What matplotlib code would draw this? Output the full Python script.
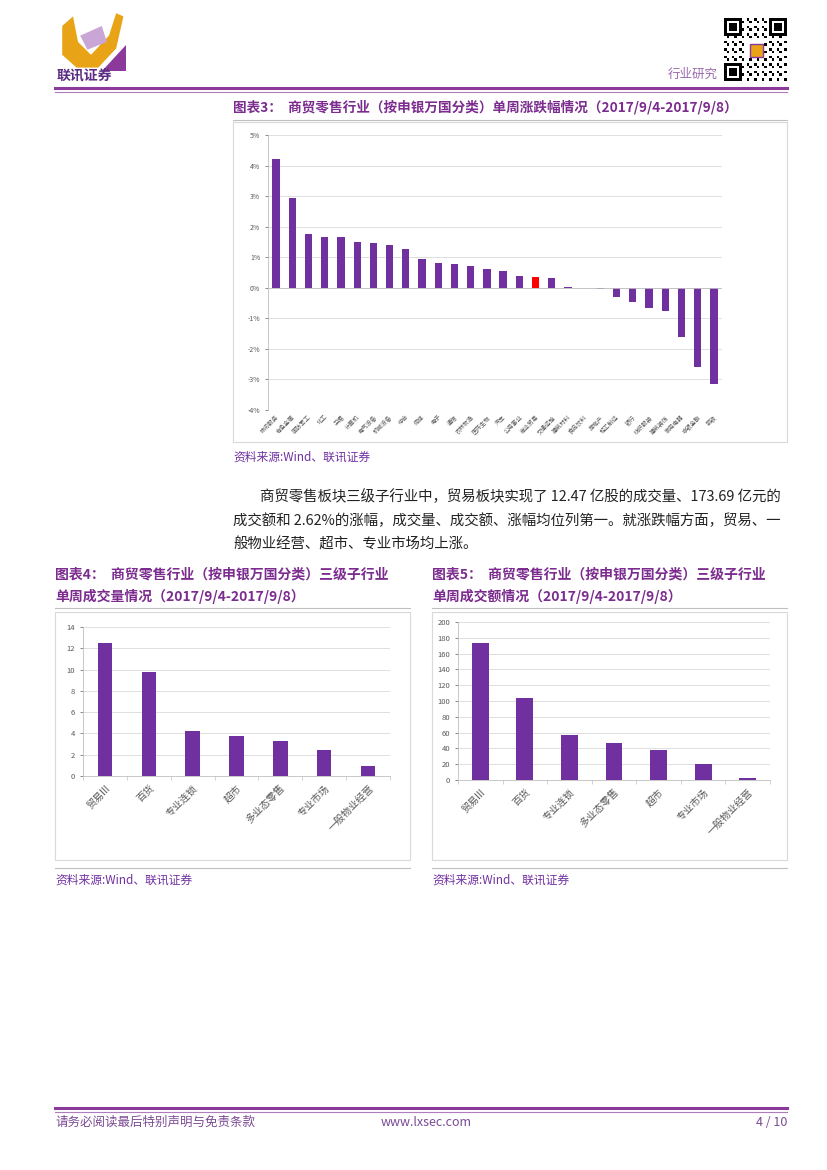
import numpy as np
import matplotlib
matplotlib.use("Agg")
import matplotlib.pyplot as plt
from matplotlib.patches import Rectangle, Polygon
from matplotlib.lines import Line2D

plt.rcParams['font.family'] = ['Noto Sans CJK SC', 'DejaVu Sans']

#chart 3 data: SW level-1 industries weekly change (%)
industries = ["休闲服务", "有色金属", "国防军工", "化工", "采掘", "计算机", "电气设备",
              "机械设备", "综合", "传媒", "电子", "通信", "农林牧渔", "医药生物",
              "汽车", "公用事业", "商业贸易", "交通运输", "建筑材料", "食品饮料",
              "房地产", "轻工制造", "银行", "纺织服装", "建筑装饰", "家用电器",
              "非银金融", "钢铁"]
weekly_change = [4.2, 2.95, 1.75, 1.65, 1.65, 1.5, 1.45, 1.4, 1.27, 0.95, 0.82, 0.78,
                 0.7, 0.6, 0.55, 0.4, 0.35, 0.33, 0.02, 0.0, -0.03, -0.3, -0.45,
                 -0.65, -0.75, -1.6, -2.6, -3.15]
highlight = "商业贸易"

#chart 4 data: volume (100m shares)
vol_labels = ["贸易III", "百货", "专业连锁", "超市", "多业态零售", "专业市场", "一般物业经营"]
vol_values = [12.47, 9.8, 4.25, 3.8, 3.25, 2.4, 0.95]

#chart 5 data: turnover (100m yuan)
amt_labels = ["贸易III", "百货", "专业连锁", "多业态零售", "超市", "专业市场", "一般物业经营"]
amt_values = [173.69, 104, 57, 47, 38, 20, 3]

W, H = 827, 1170
PURPLE = "#7030A0"
TITLE_PURPLE = "#7B2C8E"
GRID = "#D9D9D9"
TICK = "#595959"

fig = plt.figure(figsize=(W / 100, H / 100), dpi=100)
fig.patch.set_facecolor("white")


def ax_px(x, y, w, h, **kw):
    return fig.add_axes([x / W, 1 - (y + h) / H, w / W, h / H], **kw)


def text_px(x, y, s, **kw):
    return fig.text(x / W, 1 - y / H, s, **kw)


def hline_px(x0, x1, y, color, lw):
    fig.add_artist(Line2D([x0 / W, x1 / W], [1 - y / H, 1 - y / H],
                          transform=fig.transFigure, color=color, linewidth=lw))


def box_px(x, y, w, h):
    fig.add_artist(Rectangle((x / W, 1 - (y + h) / H), w / W, h / H,
                             transform=fig.transFigure, fill=False,
                             edgecolor=GRID, linewidth=0.8))


def style_axes(ax):
    for side in ["top", "right"]:
        ax.spines[side].set_visible(False)
    ax.spines["left"].set_color("#BFBFBF")
    ax.spines["bottom"].set_color("#BFBFBF")
    ax.spines["left"].set_linewidth(0.6)
    ax.spines["bottom"].set_linewidth(0.6)
    ax.grid(axis="y", color=GRID, linewidth=0.6)
    ax.set_axisbelow(True)
    ax.tick_params(axis="both", colors=TICK, length=2, width=0.5)


#header: logo
logo = ax_px(55, 10, 72, 64)
logo.set_xlim(0, 10)
logo.set_ylim(0, 10)
logo.axis("off")
logo.add_patch(Polygon([[1, 7.5], [2.5, 9], [3.2, 5], [5, 3], [7.5, 6], [8.5, 9.5], [9.5, 9],
                        [8.5, 4], [6, 1], [3, 1], [1, 3]], closed=True,
                       facecolor="#E8A317", edgecolor="none"))
logo.add_patch(Polygon([[3.5, 6], [6.5, 7.5], [7.2, 5], [4.5, 3.8]], closed=True,
                       facecolor="#C9A6D6", edgecolor="none"))
logo.add_patch(Polygon([[6.5, 0.5], [9.8, 0.5], [9.8, 4.5]], closed=True,
                       facecolor="#8B3A9B", edgecolor="none"))
text_px(57, 76, "联讯证券", fontsize=10, color="#5B2C83", fontweight="bold", va="center")

#header: QR code placeholder
qr = ax_px(724, 17, 63, 65)
n = 25
grid = np.zeros((n, n))
for i in range(n):
    for j in range(n):
        grid[i, j] = 1 if (i * 7 + j * 13 + i * j) % 3 == 0 else 0
for (ci, cj) in [(0, 0), (0, n - 7), (n - 7, 0)]:
    grid[ci:ci + 7, cj:cj + 7] = 1
    grid[ci + 1:ci + 6, cj + 1:cj + 6] = 0
    grid[ci + 2:ci + 5, cj + 2:cj + 5] = 1
grid[9:16, 9:16] = 0
qr.imshow(grid, cmap="Greys", interpolation="nearest")
qr.add_patch(Rectangle((10, 10), 5, 5, facecolor="#E8A317", edgecolor="#8B3A9B"))
qr.axis("off")
text_px(718, 74, "行业研究", fontsize=9, color="#9B6BAE", ha="right", va="center")

hline_px(55, 787, 88, "#8B3A9B", 2.2)
hline_px(55, 787, 92, "#B07CC0", 0.8)

#chart 3
text_px(233, 107, "图表3：  商贸零售行业（按申银万国分类）单周涨跌幅情况（2017/9/4-2017/9/8）",
        fontsize=9.8, fontweight="bold", color=TITLE_PURPLE, va="center")
hline_px(233, 787, 120, "#BFBFBF", 0.8)
box_px(233, 122, 554, 320)

ax3 = ax_px(268, 135, 454, 275)
x3 = np.arange(len(industries))
colors3 = ["#FF0000" if name == highlight else PURPLE for name in industries]
ax3.bar(x3, weekly_change, width=0.45, color=colors3)
ax3.set_ylim(-4, 5)
ax3.set_xlim(-0.5, len(industries) - 0.5)
ax3.set_yticks(range(-4, 6))
ax3.set_yticklabels([f"{v}%" for v in range(-4, 6)], fontsize=5)
ax3.set_xticks(x3)
ax3.set_xticklabels(industries, rotation=45, ha="right", rotation_mode="anchor",
                    fontsize=4.2, color="#808080")
style_axes(ax3)
ax3.spines["bottom"].set_visible(False)
ax3.axhline(0, color="#BFBFBF", linewidth=0.6)
ax3.tick_params(axis="x", length=0, pad=3)
text_px(233, 457, "资料来源:Wind、联讯证券", fontsize=8.5, color=PURPLE, style="italic", va="center")

#paragraph
para = ["商贸零售板块三级子行业中，贸易板块实现了 12.47 亿股的成交量、173.69 亿元的",
        "成交额和 2.62%的涨幅，成交量、成交额、涨幅均位列第一。就涨跌幅方面，贸易、一",
        "般物业经营、超市、专业市场均上涨。"]
text_px(260, 497, para[0], fontsize=10.4, color="#222222", va="center")
text_px(233, 521, para[1], fontsize=10.4, color="#222222", va="center")
text_px(233, 545, para[2], fontsize=10.4, color="#222222", va="center")


def small_chart(x0, ax_rect, labels, values, ymax, step, width, title2, num):
    text_px(x0, 575, f"图表{num}：  商贸零售行业（按申银万国分类）三级子行业",
            fontsize=10, fontweight="bold", color=TITLE_PURPLE, va="center")
    text_px(x0, 596, title2, fontsize=10, fontweight="bold", color=TITLE_PURPLE, va="center")
    hline_px(x0, x0 + 355, 608, "#BFBFBF", 0.8)
    box_px(x0, 612, 355, 248)
    ax = ax_px(*ax_rect)
    xs = np.arange(len(labels))
    ax.bar(xs, values, width=width, color=PURPLE)
    ax.set_ylim(0, ymax)
    ax.set_xlim(-0.5, len(labels) - 0.5)
    ax.set_yticks(np.arange(0, ymax + step, step))
    ax.set_yticklabels([str(int(v)) for v in np.arange(0, ymax + step, step)], fontsize=5.5)
    ax.set_xticks(xs)
    ax.set_xticklabels(labels, rotation=45, ha="right", rotation_mode="anchor",
                       fontsize=7.2, color="#505050")
    style_axes(ax)
    ax.set_xticks(np.arange(-0.5, len(labels)), minor=True)
    ax.tick_params(axis="x", which="major", length=0, pad=5)
    ax.tick_params(axis="x", which="minor", length=3, width=0.5, color="#BFBFBF")
    hline_px(x0, x0 + 355, 868, "#BFBFBF", 0.8)
    text_px(x0, 880, "资料来源:Wind、联讯证券", fontsize=8.5, color=PURPLE, style="italic", va="center")
    return ax


small_chart(55, (83, 627, 307, 149), vol_labels, vol_values, 14, 2, 0.33,
            "单周成交量情况（2017/9/4-2017/9/8）", 4)
small_chart(432, (458, 622, 312, 158), amt_labels, amt_values, 200, 20, 0.38,
            "单周成交额情况（2017/9/4-2017/9/8）", 5)

#footer
hline_px(55, 787, 1108, "#8B3A9B", 2.2)
hline_px(55, 787, 1112, "#B07CC0", 0.8)
text_px(55, 1122, "请务必阅读最后特别声明与免责条款", fontsize=9, color="#7B4A94", va="center")
text_px(381, 1122, "www.lxsec.com", fontsize=9, color="#7B4A94", va="center")
text_px(787, 1122, "4 / 10", fontsize=9, color="#7B4A94", va="center", ha="right")

fig.savefig("out.png", dpi=100)
